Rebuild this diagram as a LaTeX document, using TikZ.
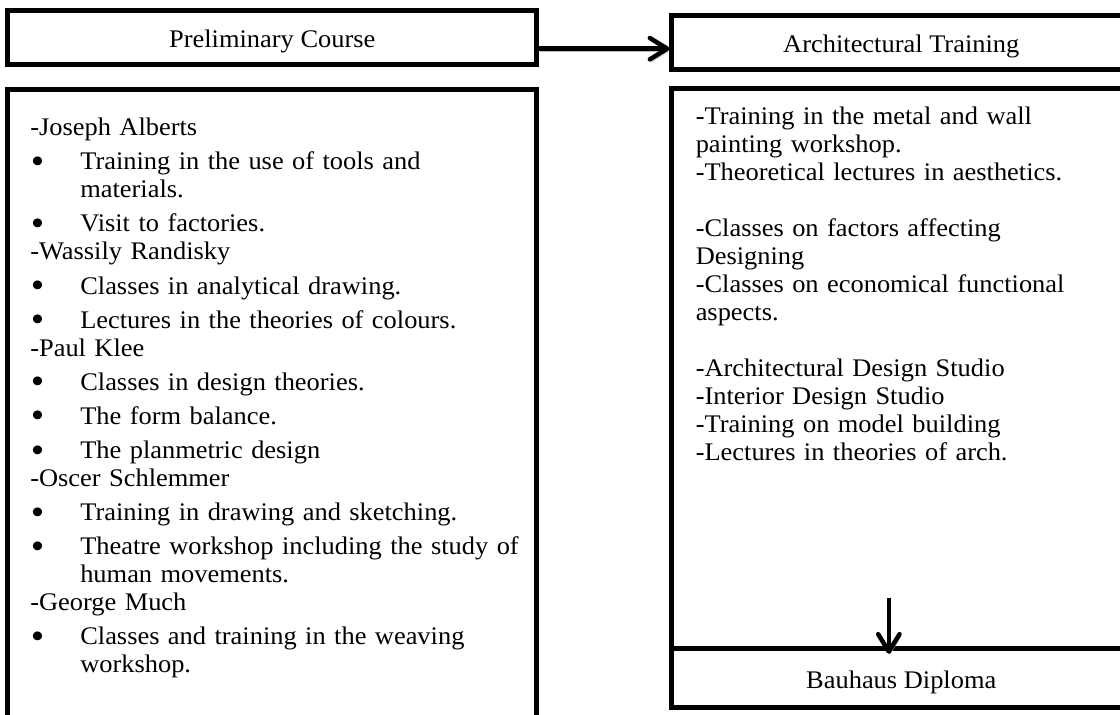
\documentclass[tikz,border=0pt]{standalone}
\usepackage{fontspec}
\setmainfont{Liberation Serif}[FakeStretch=1.043]
\usepackage{graphicx}
\usepackage{tikz}
\usetikzlibrary{positioning,arrows.meta,shadows}

\newcommand{\bodyfont}{\fontsize{19pt}{21pt}\selectfont}
\newcommand{\teacher}[1]{\par\noindent\strut-#1}
\newcommand{\topic}[1]{\par\vspace{4.6pt}\noindent\hangindent=37.5pt\makebox[37.5pt][l]{\hspace{0.5pt}\smash{\raisebox{-0.3ex}{\scalebox{1.45}{\textbullet}}}}#1\par}

\begin{document}
\begin{tikzpicture}[
        x=0.75pt, y=-0.75pt,
        node distance=15.2pt and 97.5pt,
        >={Straight Barb[length=13pt,width=16pt,round]},
        frame/.style={rectangle, draw, line width=3.75pt, fill=white,
            drop shadow={shadow xshift=1.1pt, shadow yshift=-1.1pt, fill=gray!50, opacity=1},
            font=\bodyfont, text height=15.5pt, text depth=0pt},
        notes/.style={anchor=north west, inner sep=0pt, align=left, font=\bodyfont},
        flow/.style={->, line width=3.4pt,
            preaction={draw=gray!55, ->, transform canvas={shift={(0.75pt,-2.25pt)}}}}
    ]
        \clip (0,0) rectangle (1120,714);

        \node[frame, minimum width=397.1pt, minimum height=40.05pt] (prelim) at (272.25,37.5) {Preliminary Course};
        \node[frame, minimum width=397.1pt, minimum height=502.9pt, below=of prelim] (prelimlist) {};

        \node[frame, minimum width=343.9pt, minimum height=40.5pt, right=of prelim, yshift=-3.4pt] (arch) {Architectural Training};
        \node[frame, minimum width=343.9pt, minimum height=420.5pt, below=10.7pt of arch] (archlist) {};
        \node[frame, minimum width=343.9pt, minimum height=44.25pt, below=-3.75pt of archlist] (diploma) {Bauhaus Diploma};

        \node[notes, text width=380pt] (prelimtext) at ([shift={(25,20.4)}]prelimlist.north west) {%
            \teacher{Joseph Alberts}
            \topic{Training in the use of tools and\newline materials.}
            \topic{Visit to factories.}
            \teacher{Wassily Randisky}
            \topic{Classes in analytical drawing.}
            \topic{Lectures in the theories of colours.}
            \teacher{Paul Klee}
            \topic{Classes in design theories.}
            \topic{The form balance.}
            \topic{The planmetric design}
            \teacher{Oscer Schlemmer}
            \topic{Training in drawing and sketching.}
            \topic{Theatre workshop including the study of\newline human movements.}
            \teacher{George Much}
            \topic{Classes and training in the weaving\newline workshop.}};

        \node[notes, text width=330pt] (archtext) at ([shift={(26,18.6)}]archlist.north west) {%
            \strut-Training in the metal and wall\\
            painting workshop.\\
            -Theoretical lectures in aesthetics.\\[21pt]
            -Classes on factors affecting\\
            Designing\\
            -Classes on economical functional\\
            aspects.\\[21pt]
            -Architectural Design Studio\\
            -Interior Design Studio\\
            -Training on model building\\
            -Lectures in theories of arch.};

        \coordinate (linkstart) at ([yshift=-8.4pt]prelim.east);
        \draw[flow] (linkstart) -- (linkstart -| arch.west);

        \coordinate (droptop) at ([xshift=-9.3pt,yshift=36.4pt]diploma.north);
        \coordinate (droptip) at ([xshift=-9.3pt,yshift=-5.5pt]diploma.north);
        \draw[flow] (droptop) -- (droptip);
    \end{tikzpicture}
\end{document}
